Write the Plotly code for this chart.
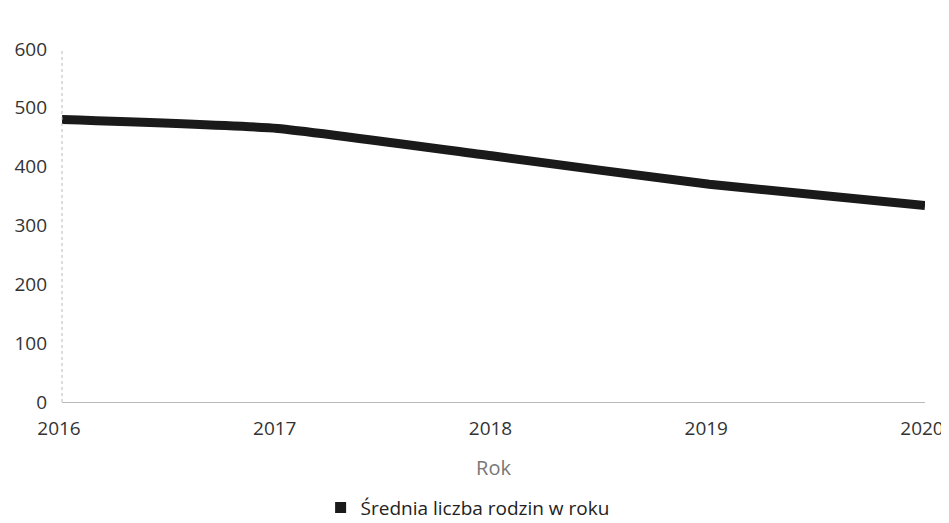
import plotly.graph_objects as go

years = [2016, 2017, 2018, 2019, 2020]
values = [480, 465, 418, 370, 334]
y_ticks = [0, 100, 200, 300, 400, 500, 600]
series_name = "Średnia liczba rodzin w roku"
x_title = "Rok"

fig = go.Figure()
fig.add_trace(go.Scatter(
    x=years, y=values, mode="lines",
    line=dict(color="#1a1a1a", width=9, shape="spline", smoothing=0.4),
    showlegend=False, hoverinfo="x+y",
))
fig.add_trace(go.Scatter(
    x=[None], y=[None], mode="markers", name=series_name,
    marker=dict(symbol="square", size=11, color="#1a1a1a"),
))

# page body has an 8px default margin, so the figure is sized to fit within the window
fig.update_layout(
    width=941, height=515,
    margin=dict(l=54, r=24, t=41, b=121),
    paper_bgcolor="white", plot_bgcolor="white",
    font=dict(family="Open Sans, Noto Sans, sans-serif", size=19, color="#333"),
    xaxis=dict(
        range=[2016, 2020], tickvals=years, ticktext=[str(y) for y in years],
        showgrid=False, zeroline=False, showline=True, linecolor="#bbbbbb", linewidth=1,
        ticks="", ticklabelstandoff=9, ticklabelshift=-3, automargin=False,
        title=dict(text=x_title, font=dict(size=20, color="#777"), standoff=21),
    ),
    yaxis=dict(
        range=[0, 600], tickvals=y_ticks, showgrid=False, zeroline=False,
        showline=False, ticks="", ticklabelstandoff=14, automargin=False,
    ),
    shapes=[dict(type="line", xref="paper", yref="paper", x0=0, x1=0, y0=0, y1=1,
                 line=dict(color="#bbbbbb", width=1, dash="dot"))],
    legend=dict(orientation="h", x=0.47, xanchor="center",
                yref="container", y=0.03, yanchor="middle",
                itemwidth=30, font=dict(size=19, color="#222")),
)

fig.write_html("out.html")
